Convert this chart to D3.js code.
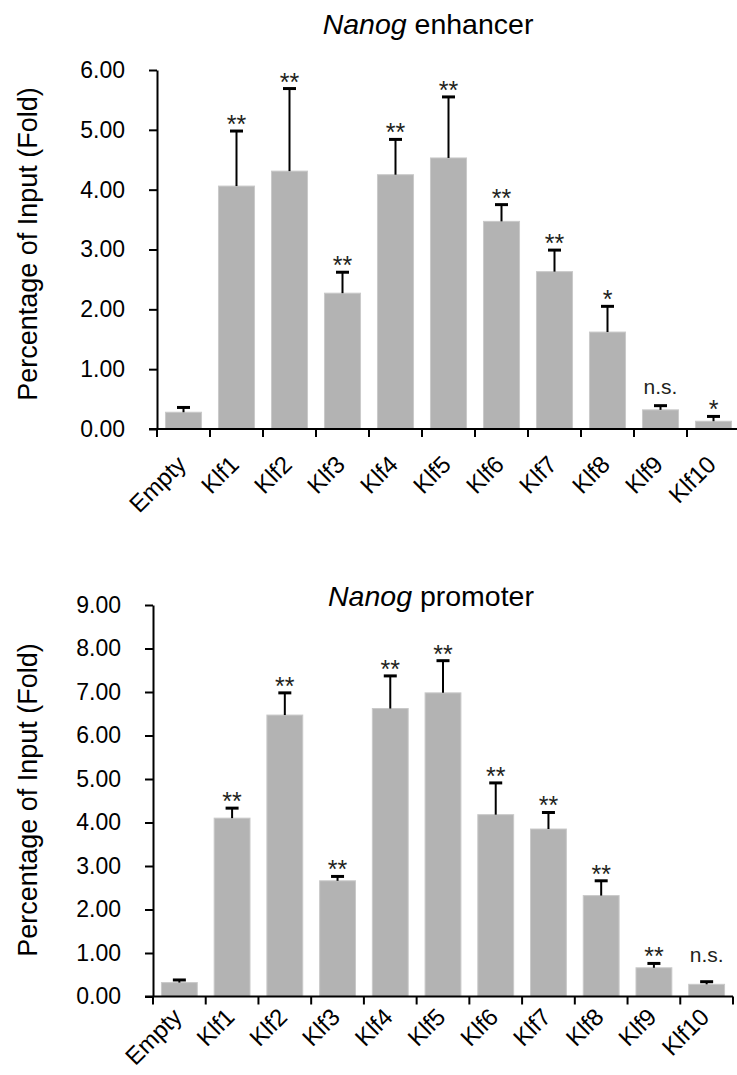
<!DOCTYPE html>
<html>
<head>
<meta charset="utf-8">
<script src="https://cdn.jsdelivr.net/npm/d3@7"></script>
<style>
	body { margin: 0; background: #fff; }
	svg { display: block; font-family: Arial, 'Liberation Sans', sans-serif; }
</style>
</head>
<body>
<svg id="fig" width="737" height="1075"></svg>
<script>
// values
var categories = ['Empty', 'Klf1', 'Klf2', 'Klf3', 'Klf4', 'Klf5', 'Klf6', 'Klf7', 'Klf8', 'Klf9', 'Klf10'];

var enhancerMean = [0.28, 4.06, 4.31, 2.27, 4.25, 4.53, 3.47, 2.63, 1.62, 0.32, 0.13];
var enhancerErr  = [0.08, 0.92, 1.38, 0.35, 0.59, 1.02, 0.28, 0.36, 0.43, 0.07, 0.08];
var enhancerSig  = ['', '**', '**', '**', '**', '**', '**', '**', '*', 'n.s.', '*'];
var enhancerTicks = [0, 1, 2, 3, 4, 5, 6];

var promoterMean = [0.32, 4.10, 6.47, 2.66, 6.62, 6.98, 4.18, 3.85, 2.32, 0.66, 0.28];
var promoterErr  = [0.06, 0.23, 0.51, 0.10, 0.75, 0.74, 0.73, 0.38, 0.34, 0.10, 0.06];
var promoterSig  = ['', '**', '**', '**', '**', '**', '**', '**', '**', '**', 'n.s.'];
var promoterTicks = [0, 1, 2, 3, 4, 5, 6, 7, 8, 9];

var svg = d3.select('#fig');

function drawPanel(opt) {
	var g = svg.append('g');

	var x = d3.scaleBand().domain(categories).range([opt.left, opt.right]).padding(0);
	var y = d3.scaleLinear().domain([0, d3.max(opt.ticks)]).range([opt.bottom, opt.top]);
	var barW = x.bandwidth() * 0.68;

	var rows = categories.map(function (c, i) {
		return { cat: c, mean: opt.mean[i], err: opt.err[i], sig: opt.sig[i] };
	});

	// bars
	g.selectAll('rect.bar')
		.data(rows)
		.enter().append('rect')
		.attr('class', 'bar')
		.attr('x', function (d) { return x(d.cat) + (x.bandwidth() - barW) / 2; })
		.attr('y', function (d) { return y(d.mean); })
		.attr('width', barW)
		.attr('height', function (d) { return y(0) - y(d.mean); })
		.attr('fill', '#b3b3b3')
		.attr('stroke', '#c9c9c9')
		.attr('stroke-width', 1);

	// error bars (upper only)
	var cx = function (d) { return x(d.cat) + x.bandwidth() / 2; };
	g.selectAll('line.err')
		.data(rows)
		.enter().append('line')
		.attr('x1', cx).attr('x2', cx)
		.attr('y1', function (d) { return y(d.mean); })
		.attr('y2', function (d) { return y(d.mean + d.err); })
		.attr('stroke', '#000').attr('stroke-width', 2);
	g.selectAll('line.cap')
		.data(rows)
		.enter().append('line')
		.attr('x1', function (d) { return cx(d) - 6.5; })
		.attr('x2', function (d) { return cx(d) + 6.5; })
		.attr('y1', function (d) { return y(d.mean + d.err); })
		.attr('y2', function (d) { return y(d.mean + d.err); })
		.attr('stroke', '#000').attr('stroke-width', 3);

	// significance marks
	g.selectAll('text.sig')
		.data(rows.filter(function (d) { return d.sig; }))
		.enter().append('text')
		.attr('x', cx)
		.attr('y', function (d) { return y(d.mean + d.err) + (d.sig === 'n.s.' ? -opt.nsGap : 2); })
		.attr('text-anchor', 'middle')
		.attr('font-size', function (d) { return d.sig === 'n.s.' ? 21 : 25; })
		.attr('fill', '#231f20')
		.text(function (d) { return d.sig; });

	// y axis
	var yAxis = g.append('g')
		.attr('transform', 'translate(' + opt.left + ',0)')
		.call(d3.axisLeft(y).tickValues(opt.ticks).tickFormat(d3.format('.2f'))
			.tickSize(8).tickSizeOuter(0).tickPadding(24));
	yAxis.selectAll('path, line').attr('stroke', '#000').attr('stroke-width', 2);
	yAxis.selectAll('text').attr('font-size', 23).attr('fill', '#000')
		.attr('font-family', 'Arial, Liberation Sans, sans-serif');

	// x axis: line and ticks at category boundaries
	g.append('line')
		.attr('x1', opt.left - 8).attr('x2', opt.right)
		.attr('y1', y(0)).attr('y2', y(0))
		.attr('stroke', '#000').attr('stroke-width', 2);
	var bounds = d3.range(categories.length + 1).map(function (i) { return opt.left + i * x.step(); });
	g.selectAll('line.xt')
		.data(bounds)
		.enter().append('line')
		.attr('x1', function (d) { return d; }).attr('x2', function (d) { return d; })
		.attr('y1', y(0)).attr('y2', y(0) + 8)
		.attr('stroke', '#000').attr('stroke-width', 2);
	g.selectAll('text.xl')
		.data(categories)
		.enter().append('text')
		.attr('transform', function (d) {
			return 'translate(' + (x(d) + x.bandwidth() / 2 - 2) + ',' + (y(0) + opt.labelGap) + ') rotate(-45)';
		})
		.attr('text-anchor', 'end')
		.attr('dy', '0.35em')
		.attr('font-size', 24)
		.text(function (d) { return d; });

	// y label
	g.append('text')
		.attr('transform', 'translate(37,' + opt.labelY + ') rotate(-90)')
		.attr('text-anchor', 'middle')
		.attr('font-size', 27)
		.text('Percentage of Input (Fold)');

	// title
	var t = g.append('text')
		.attr('x', opt.titleX).attr('y', opt.titleY)
		.attr('text-anchor', 'middle')
		.attr('font-size', 28.5);
	t.append('tspan').attr('font-style', 'italic').text('Nanog');
	t.append('tspan').text(' ' + opt.title);
}

drawPanel({
	mean: enhancerMean, err: enhancerErr, sig: enhancerSig, ticks: enhancerTicks,
	left: 157, right: 740, top: 70, bottom: 429,
	labelY: 244, labelGap: 31, nsGap: 12, titleX: 428, titleY: 34, title: 'enhancer'
});

drawPanel({
	mean: promoterMean, err: promoterErr, sig: promoterSig, ticks: promoterTicks,
	left: 153, right: 733, top: 605, bottom: 996.5,
	labelY: 800, labelGap: 16, nsGap: 20, titleX: 431, titleY: 606, title: 'promoter'
});
</script>
</body>
</html>
